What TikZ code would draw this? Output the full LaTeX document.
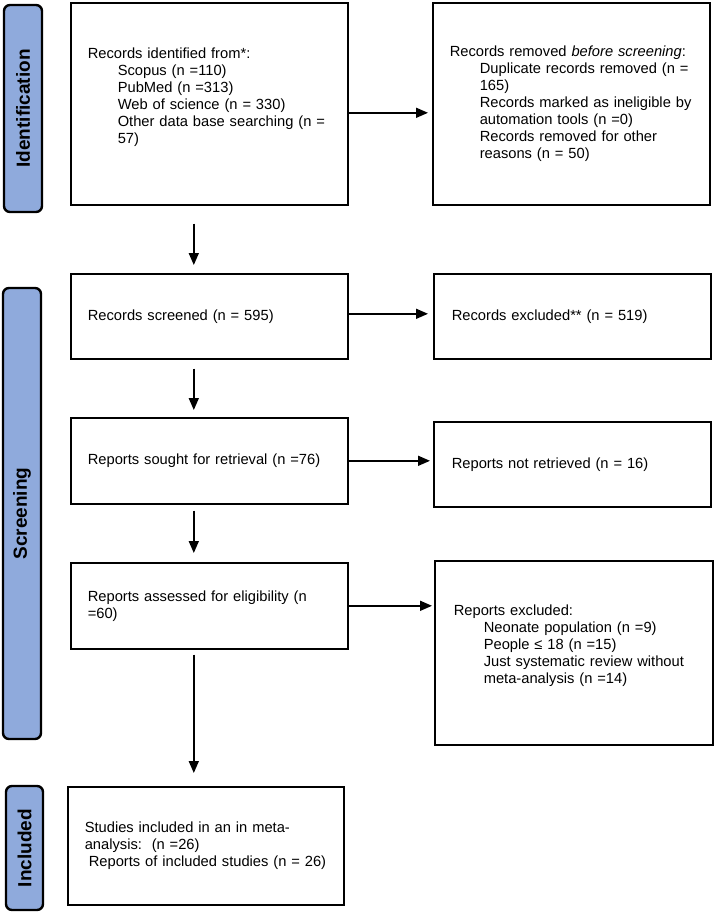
\documentclass[tikz,border=0pt]{standalone}
\usepackage{fontspec}
\setmainfont{Liberation Sans}
\usepackage{tikz}
\usetikzlibrary{arrows.meta}
\definecolor{phaseblue}{HTML}{8FAADC}
\newcommand{\ind}{\hspace*{30pt}}
\tikzset{
  stagebox/.style={draw, line width=1.6pt, anchor=north west,
    inner xsep=17pt, inner ysep=0pt, align=left,
    font=\fontsize{14.7}{17}\selectfont},
  phase/.style={draw, line width=2.4pt, fill=phaseblue, rounded corners=6pt,
    rotate=90, inner sep=0pt,
    font=\fontsize{19}{22}\selectfont\bfseries},
  flowarr/.style={line width=1.6pt, -{Triangle[length=12pt,width=10pt]}},
}
\begin{document}
\begin{tikzpicture}[x=1pt,y=-1pt]
\useasboundingbox (0,0) rectangle (714,913);
\node [phase, minimum width=207, minimum height=38]
  (sidid) at (23,108.5) {Identification};
\node [phase, minimum width=451, minimum height=38]
  (sidscr) at (22,513.5) {Screening};
\node [phase, minimum width=124, minimum height=37]
  (sidinc) at (24.5,848) {Included};
\node [stagebox, minimum width=277, minimum height=202, text width=243]
  (idf) at (70,2) {Records identified from*:\\
  \ind Scopus (n =110)\\
  \ind PubMed (n =313)\\
  \ind Web of science (n = 330)\\
  \ind\mbox{Other data base searching (n =}\\
  \ind 57)\\ \mbox{}};
\node [stagebox, minimum width=277, minimum height=202, text width=243]
  (rem) at (432,2) {Records removed \textit{before screening}:\\
  \ind\mbox{Duplicate records removed (n =}\\
  \ind 165)\\
  \ind\mbox{Records marked as ineligible by}\\
  \ind automation tools (n =0)\\
  \ind Records removed for other\\
  \ind reasons (n = 50)};
\node [stagebox, minimum width=277, minimum height=85, text width=243]
  (scr) at (70,273) {Records screened (n = 595)};
\node [stagebox, minimum width=277, minimum height=85, text width=241, inner xsep=18pt]
  (exc) at (433,273) {Records excluded** (n = 519)};
\node [stagebox, minimum width=277, minimum height=86, text width=243]
  (sought) at (70,417) {Reports sought for retrieval (n =76)};
\node [stagebox, minimum width=277, minimum height=85, text width=241, inner xsep=18pt]
  (notret) at (433,421) {Reports not retrieved (n = 16)};
\node [stagebox, minimum width=277, minimum height=86, text width=243]
  (elig) at (70,562) {\mbox{Reports assessed for eligibility (n}\\ =60)};
\node [stagebox, minimum width=278, minimum height=184, text width=240, inner xsep=19pt]
  (excl) at (434,560) {Reports excluded:\\
  \ind Neonate population (n =9)\\
  \ind People ≤ 18 (n =15)\\
  \ind\mbox{Just systematic review without}\\
  \ind meta-analysis (n =14)\\ \mbox{}};
\node [stagebox, minimum width=276, minimum height=118, text width=242]
  (incl) at (67,786) {Studies included in an in meta-\\
  analysis:\ \ (n =26)\\
  \hspace*{4pt}\mbox{Reports of included studies (n = 26)}};
\draw[flowarr, shorten >=4pt]
  ([yshift=-9pt]idf.east) --
  ([yshift=-9pt]rem.west);
\draw[flowarr, shorten >=5pt]
  ([yshift=2.5pt]scr.east) --
  ([yshift=2.5pt]scr.east -| exc.west);
\draw[flowarr, shorten >=3pt]
  (sought.east) --
  (sought.east -| notret.west);
\draw[flowarr, shorten >=2pt]
  (elig.east) --
  (elig.east -| excl.west);
\draw[flowarr, shorten <=18pt, shorten >=8pt]
  ([xshift=-15.5pt]idf.south) --
  ([xshift=-15.5pt]scr.north);
\draw[flowarr, shorten <=9pt, shorten >=7pt]
  ([xshift=-15.5pt]scr.south) --
  ([xshift=-15.5pt]sought.north);
\draw[flowarr, shorten <=6pt, shorten >=9pt]
  ([xshift=-15.5pt]sought.south) --
  ([xshift=-15.5pt]elig.north);
\draw[flowarr, shorten <=5pt, shorten >=13pt]
  ([xshift=-15.5pt]elig.south) --
  ([xshift=-15.5pt]elig.south |- incl.north);
\end{tikzpicture}
\end{document}
